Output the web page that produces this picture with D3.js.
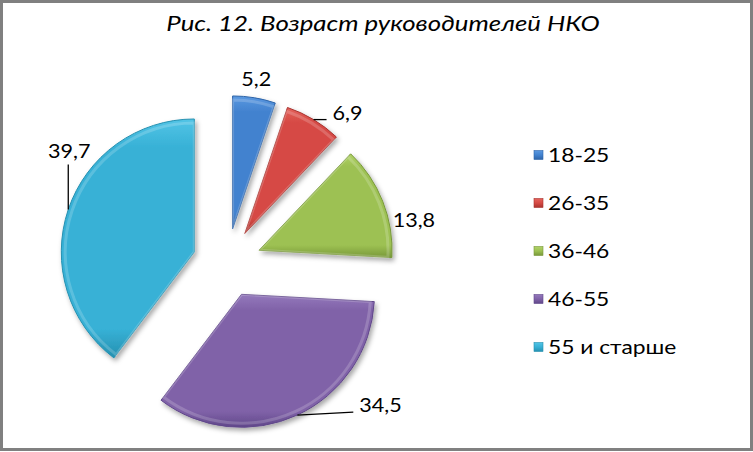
<!DOCTYPE html>
<html>
<head>
<meta charset="utf-8">
<script src="https://cdn.jsdelivr.net/npm/d3@7/dist/d3.min.js"></script>
<style>
  html, body { margin: 0; padding: 0; background: #fff; }
  svg { display: block; }
</style>
</head>
<body>
<script>
// ---- data ----
const title = "Рис. 12. Возраст руководителей НКО";
const categories = ["18-25", "26-35", "36-46", "46-55", "55 и старше"];
const values = [5.2, 6.9, 13.8, 34.5, 39.7];
const valueLabels = ["5,2", "6,9", "13,8", "34,5", "39,7"];

// ---- style / layout ----
const colors = ["#4282CF", "#D64A44", "#9DC152", "#8062A8", "#37B1D6"];
const darks  = ["#2E64A8", "#A8322E", "#78983A", "#60478A", "#2590B0"];
const lights = ["#5A98E0", "#E4625C", "#B0D268", "#9479BC", "#52C4E6"];
// label nudges relative to each slice's outer mid point
const labelLayout = [
  { dx: 2,  dy: -12, anchor: "middle", leader: null },
  { dx: 19, dy: 0,   anchor: "start",  leader: [13, 0] },
  { dx: 10, dy: 26,  anchor: "start",  leader: null },
  { dx: 62, dy: -3,  anchor: "start",  leader: [56, -3] },
  { dx: 1,  dy: -52, anchor: "middle", leader: [0, -45] }
];
const FONT = "Lato, 'Open Sans', sans-serif";

const W = 753, H = 452;
const cx = 227, cy = 263, R = 133, explode = 34.5;

const svg = d3.select("body").append("svg").attr("width", W).attr("height", H);

// defs: gradients and shadow
const defs = svg.append("defs");
const shadow = defs.append("filter").attr("id", "shadow")
  .attr("x", "-20%").attr("y", "-20%").attr("width", "150%").attr("height", "150%");
shadow.append("feDropShadow").attr("dx", 2).attr("dy", 3).attr("stdDeviation", 2.5)
  .attr("flood-color", "#000").attr("flood-opacity", 0.35);

colors.forEach((c, i) => {
  const g = defs.append("linearGradient").attr("id", "grad" + i)
    .attr("x1", 0).attr("y1", 0).attr("x2", 0).attr("y2", 1);
  g.append("stop").attr("offset", "0%").attr("stop-color", lights[i]);
  g.append("stop").attr("offset", "12%").attr("stop-color", c);
  g.append("stop").attr("offset", "88%").attr("stop-color", c);
  g.append("stop").attr("offset", "100%").attr("stop-color", darks[i]);
  const lg = defs.append("linearGradient").attr("id", "leg" + i)
    .attr("x1", 0).attr("y1", 0).attr("x2", 0).attr("y2", 1);
  lg.append("stop").attr("offset", "0%").attr("stop-color", lights[i]);
  lg.append("stop").attr("offset", "50%").attr("stop-color", c);
  lg.append("stop").attr("offset", "100%").attr("stop-color", darks[i]);
});

// border
svg.append("rect").attr("x", 1.5).attr("y", 1.5).attr("width", W - 3).attr("height", H - 4)
  .attr("fill", "#fff").attr("stroke", "#808080").attr("stroke-width", 3);

// title
svg.append("text")
  .attr("transform", "translate(383,31) scale(1.2,1)")
  .attr("text-anchor", "middle")
  .style("font-family", FONT)
  .style("font-style", "italic")
  .style("font-size", "21.5px")
  .attr("fill", "#000")
  .text(title);

// pie
const pie = d3.pie().sort(null).value(d => d)
  .startAngle(0).endAngle(2 * Math.PI);
const arcs = pie(values);
const arc = d3.arc().innerRadius(0).outerRadius(R);

const slices = svg.append("g");
arcs.forEach((a, i) => {
  const mid = (a.startAngle + a.endAngle) / 2;
  const ox = cx + explode * Math.sin(mid);
  const oy = cy - explode * Math.cos(mid);
  const g = slices.append("g").attr("transform", `translate(${ox},${oy})`);
  g.append("path")
    .attr("d", arc(a))
    .attr("fill", `url(#grad${i})`)
    .attr("stroke", darks[i])
    .attr("stroke-width", 1)
    .attr("stroke-linejoin", "round")
    .attr("filter", "url(#shadow)");
  // inner bevel highlight
  g.append("path")
    .attr("d", d3.arc().innerRadius(0).outerRadius(R - 4)(a))
    .attr("fill", "none")
    .attr("stroke", "rgba(255,255,255,0.18)")
    .attr("stroke-width", 3);

  // label
  const px = ox + R * Math.sin(mid);
  const py = oy - R * Math.cos(mid);
  const L = labelLayout[i];
  if (L.leader) {
    svg.append("line")
      .attr("x1", px).attr("y1", py)
      .attr("x2", px + L.leader[0]).attr("y2", py + L.leader[1])
      .attr("stroke", "#000").attr("stroke-width", 1.3);
  }
  svg.append("text")
    .attr("transform", `translate(${px + L.dx},${py + L.dy}) scale(1.08,1)`)
    .attr("text-anchor", L.anchor)
    .style("font-family", FONT)
    .style("font-size", "20px")
    .attr("fill", "#000")
    .text(valueLabels[i]);
});

// legend
const legend = svg.append("g").attr("transform", "translate(534,155)");
categories.forEach((c, i) => {
  const y = i * 48;
  legend.append("rect").attr("x", 0).attr("y", y - 4.5).attr("width", 9).attr("height", 9)
    .attr("fill", `url(#leg${i})`).attr("stroke", darks[i]).attr("stroke-width", 0.6);
  legend.append("text")
    .attr("transform", `translate(14,${y + 7}) scale(1.2,1)`)
    .style("font-family", FONT)
    .style("font-size", "19px")
    .attr("fill", "#000")
    .text(c);
});
</script>
</body>
</html>
